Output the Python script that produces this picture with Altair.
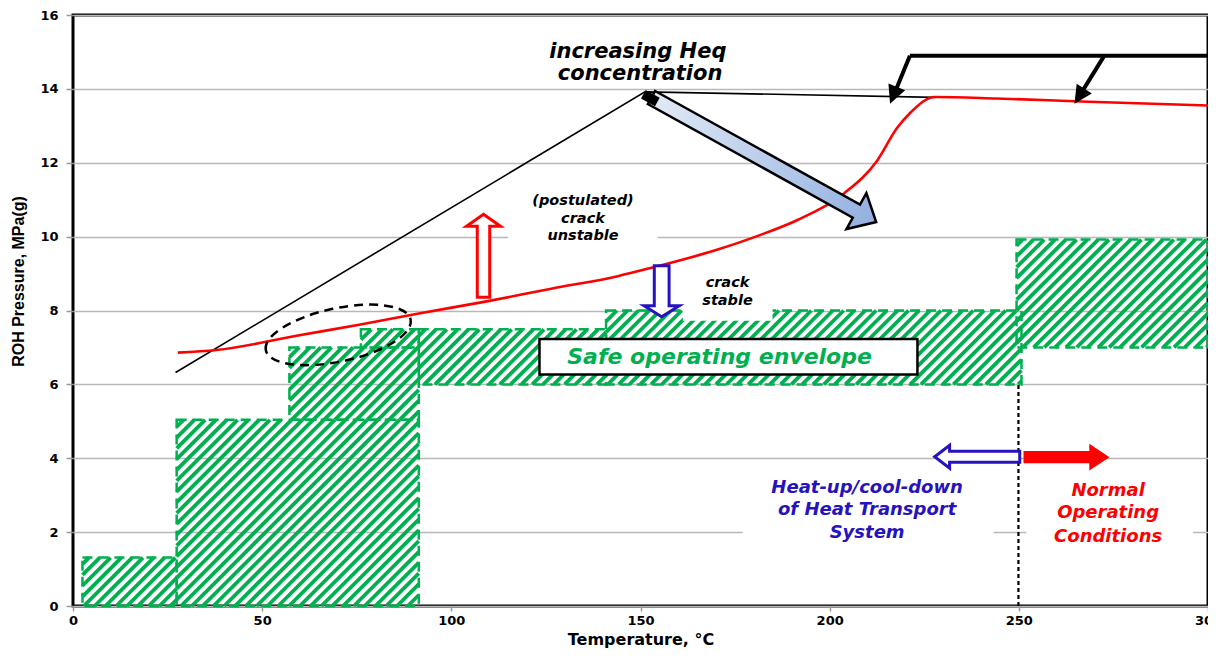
import altair as alt
import numpy as np
import pandas as pd

W, H = 1135, 591
X_MAX, Y_MAX = 300, 16
X_TICKS = [0, 50, 100, 150, 200, 250, 300]
Y_TICKS = [0, 2, 4, 6, 8, 10, 12, 14, 16]

GREEN = "#00B050"
BLUE = "#2612BE"
RED = "#FF0000"

# ---- safe operating envelope (rectangles: temperature range, pressure range)
ENV_X0 = [2.5, 27.4, 57.2, 76.1, 91.4, 140.9, 249.4]
ENV_X1 = [27.4, 91.4, 91.4, 91.4, 140.9, 250.7, 300.0]
ENV_Y0 = [0.0, 0.0, 5.04, 7.0, 6.0, 6.0, 7.0]
ENV_Y1 = [1.31, 5.04, 7.0, 7.49, 7.49, 8.0, 9.92]

# ---- crack-stability boundary (red curve)
RED_T = [27.7, 37.9, 59.8, 76.0, 91.4, 109.0, 126.4, 144.0, 152.7, 170.4, 181.0,
         191.5, 203.8, 212.5, 217.8, 221.2, 227.8, 244.0, 266.5, 300.0]
RED_P = [6.86, 6.93, 7.33, 7.62, 7.92, 8.24, 8.59, 8.93, 9.15, 9.65, 10.02,
         10.45, 11.17, 12.05, 12.94, 13.34, 13.78, 13.74, 13.66, 13.55]

# ---- increasing Heq line
HEQ_T = [27.1, 151.2, 227.8]
HEQ_P = [6.32, 13.92, 13.77]

# ---- bracket with two arrows (top right)
BR_X1 = [221.2, 221.2, 272.6]
BR_Y1 = [14.9, 14.9, 14.9]
BR_X2 = [300.0, 217.5, 266.8]
BR_Y2 = [14.9, 13.97, 13.94]
HEAD_X = [215.96, 264.7]
HEAD_Y = [13.6, 13.6]
HEAD_ANGLE = [22, 33]

# ---- white label backgrounds (x0, x1, y0, y1)
MASK_X0 = [115.0, 161.2, 177.0, 252.0]
MASK_X1 = [154.5, 184.9, 243.3, 296.0]
MASK_Y0 = [9.75, 7.72, 1.6, 1.6]
MASK_Y1 = [11.3, 9.0, 3.6, 3.6]
BOX_X0, BOX_X1, BOX_Y0, BOX_Y1 = [123.3], [223.2], [6.27], [7.23]

# ---- divider at 250 C
DIV_T = [249.9]
DIV_P0, DIV_P1 = [0.0], [6.0]

# ---- arrows (centre positions)
BIG_ARROW = {"x": [182.6], "y": [12.08]}
BIG_CAP = {"x": [152.6], "y": [13.75]}
UP_ARROW = {"x": [108.5], "y": [9.48]}
DOWN_ARROW = {"x": [155.6], "y": [8.52]}
LEFT_ARROW = {"x": [239.0], "y": [4.04]}
RIGHT_ARROW = {"x": [262.6], "y": [4.03]}
ELLIPSE = {"x": [70.1], "y": [7.34]}

# ---- texts
HEQ_TXT = ["increasing Heq", "concentration"]
HEQ_TX = [149.3, 149.9]
HEQ_TY = [14.99, 14.4]
UNST_TXT = ["(postulated)", "crack", "unstable"]
UNST_TX = [134.8, 134.8, 134.8]
UNST_TY = [10.96, 10.49, 10.02]
STAB_TXT = ["crack", "stable"]
STAB_TX = [173.0, 173.0]
STAB_TY = [8.74, 8.27]
SAFE_TXT = ["Safe operating envelope"]
SAFE_TX = [170.9]
SAFE_TY = [6.75]
HEAT_TXT = ["Heat-up/cool-down", "of Heat Transport", "System"]
HEAT_TX = [209.9, 209.9, 209.9]
HEAT_TY = [3.2, 2.59, 1.97]
NORM_TXT = ["Normal", "Operating", "Conditions"]
NORM_TX = [273.6, 273.6, 273.6]
NORM_TY = [3.12, 2.51, 1.87]

# ---------------------------------------------------------------
xscale = alt.Scale(domain=[0, X_MAX], nice=False, zero=False)
yscale = alt.Scale(domain=[0, Y_MAX], nice=False, zero=False)
xaxis = alt.Axis(values=X_TICKS, title="Temperature, °C", grid=False, labelFlush=False,
                 tickSize=5, labelPadding=3, titleY=41, titleBaseline="bottom",
                 titleFont="DejaVu Sans", titleFontSize=16, titleFontWeight="bold")
yaxis = alt.Axis(values=Y_TICKS, title="ROH Pressure, MPa(g)", grid=True,
                 gridColor="#B8B8B8", gridWidth=1.5, tickSize=7, labelPadding=8,
                 titleX=-55, titleY=266, titleBaseline="middle", titleAngle=270,
                 titleFont="Liberation Sans", titleFontSize=16, titleFontWeight="bold")


def X(f):
    return alt.X(f, type="quantitative", scale=xscale, axis=xaxis)


def Y(f):
    return alt.Y(f, type="quantitative", scale=yscale, axis=yaxis)


# hatch segments (45 degree stripes in screen space) clipped to envelope rectangles
sx, sy = W / X_MAX, H / Y_MAX
k = sx / sy
d = 10.8 / sx
segs = []
for x0, x1, y0, y1 in zip(ENV_X0, ENV_X1, ENV_Y0, ENV_Y1):
    cmin, cmax = x0 - y1 / k, x1 - y0 / k
    for n in range(int(np.floor(cmin / d)) - 1, int(np.ceil(cmax / d)) + 2):
        c = n * d
        xa = max(x0, c + y0 / k)
        xb = min(x1, c + y1 / k)
        if xb > xa:
            segs.append((xa, k * (xa - c), xb, k * (xb - c)))
hatch_df = pd.DataFrame(segs, columns=["xa", "ya", "xb", "yb"])
env_df = pd.DataFrame({"x0": ENV_X0, "x1": ENV_X1, "y0": ENV_Y0, "y1": ENV_Y1})
mask_df = pd.DataFrame({"x0": MASK_X0, "x1": MASK_X1, "y0": MASK_Y0, "y1": MASK_Y1})
box_df = pd.DataFrame({"x0": BOX_X0, "x1": BOX_X1, "y0": BOX_Y0, "y1": BOX_Y1})

hatch = alt.Chart(hatch_df).mark_rule(color=GREEN, strokeWidth=3.8, strokeCap="butt").encode(
    x=X("xa"), y=Y("ya"), x2="xb", y2="yb")
outline = alt.Chart(env_df).mark_rect(fillOpacity=0, stroke=GREEN, strokeWidth=2.5,
                                      strokeDash=[10, 6]).encode(
    x=X("x0"), x2="x1", y=Y("y0"), y2="y1")
masks = alt.Chart(mask_df).mark_rect(color="white", opacity=1).encode(
    x=X("x0"), x2="x1", y=Y("y0"), y2="y1")
box = alt.Chart(box_df).mark_rect(fill="white", stroke="black", strokeWidth=2.5).encode(
    x=X("x0"), x2="x1", y=Y("y0"), y2="y1")

divider = alt.Chart(pd.DataFrame({"t": DIV_T, "p0": DIV_P0, "p1": DIV_P1})).mark_rule(
    color="black", strokeWidth=2.2, strokeDash=[4, 3]).encode(x=X("t"), y=Y("p0"), y2="p1")

heq = alt.Chart(pd.DataFrame({"t": HEQ_T, "p": HEQ_P})).mark_line(
    color="black", strokeWidth=1.6).encode(x=X("t"), y=Y("p"))
red = alt.Chart(pd.DataFrame({"t": RED_T, "p": RED_P})).mark_line(
    color=RED, strokeWidth=2.6, interpolate="monotone").encode(x=X("t"), y=Y("p"))

bracket = alt.Chart(pd.DataFrame({"x1": BR_X1, "y1": BR_Y1, "x2": BR_X2, "y2": BR_Y2})).mark_rule(
    color="black", strokeWidth=4).encode(x=X("x1"), y=Y("y1"), x2="x2", y2="y2")
heads = alt.Chart(pd.DataFrame({"x": HEAD_X, "y": HEAD_Y, "a": HEAD_ANGLE})).mark_point(
    shape="M0,0 L-0.5,-1 L0.5,-1 Z", size=1296, filled=True, fill="black",
    strokeWidth=0, opacity=1).encode(x=X("x"), y=Y("y"), angle=alt.Angle("a:Q", scale=None))

BIG_PATH = "M-1,-0.058 L0.824,-0.058 L0.824,-0.16 L1,0 L0.824,0.16 L0.824,0.058 L-1,0.058 Z"
big_grad = alt.LinearGradient(gradient="linear",
                              stops=[alt.GradientStop(color="#E2EAF6", offset=0),
                                     alt.GradientStop(color="#93B0E0", offset=1)],
                              x1=0, x2=1, y1=0, y2=0)
big = alt.Chart(pd.DataFrame(BIG_ARROW)).mark_point(
    shape=BIG_PATH, size=66000, angle=29, filled=True, fill=big_grad, stroke="black",
    strokeWidth=2.5, opacity=1).encode(x=X("x"), y=Y("y"))
cap = alt.Chart(pd.DataFrame(BIG_CAP)).mark_point(
    shape="M-1,-0.6 L1,-0.6 L1,0.6 L-1,0.6 Z", size=256, angle=29, filled=True,
    fill="black", strokeWidth=0, opacity=1).encode(x=X("x"), y=Y("y"))

UP_PATH = "M0,-1 L0.41,-0.71 L0.15,-0.71 L0.15,1 L-0.15,1 L-0.15,-0.71 L-0.41,-0.71 Z"
DOWN_PATH = "M0,1 L0.69,0.57 L0.29,0.57 L0.29,-1 L-0.29,-1 L-0.29,0.57 L-0.69,0.57 Z"
LEFT_PATH = "M-1,0 L-0.65,-0.27 L-0.65,-0.13 L1,-0.13 L1,0.13 L-0.65,0.13 L-0.65,0.27 Z"
RIGHT_PATH = "M1,0 L0.53,-0.31 L0.53,-0.14 L-1,-0.14 L-1,0.14 L0.53,0.14 L0.53,0.31 Z"

up = alt.Chart(pd.DataFrame(UP_ARROW)).mark_point(
    shape=UP_PATH, size=6889, filled=True, fill="white", stroke=RED, strokeWidth=3,
    opacity=1).encode(x=X("x"), y=Y("y"))
down = alt.Chart(pd.DataFrame(DOWN_ARROW)).mark_point(
    shape=DOWN_PATH, size=2601, filled=True, fill="white", stroke=BLUE, strokeWidth=3,
    opacity=1).encode(x=X("x"), y=Y("y"))
left = alt.Chart(pd.DataFrame(LEFT_ARROW)).mark_point(
    shape=LEFT_PATH, size=7225, filled=True, fill="white", stroke=BLUE, strokeWidth=3,
    opacity=1).encode(x=X("x"), y=Y("y"))
right = alt.Chart(pd.DataFrame(RIGHT_ARROW)).mark_point(
    shape=RIGHT_PATH, size=7396, filled=True, fill=RED, strokeWidth=0,
    opacity=1).encode(x=X("x"), y=Y("y"))

ELL_PATH = "M-1,0 A1,0.36 0 1,1 1,0 A1,0.36 0 1,1 -1,0 Z"
ellipse = alt.Chart(pd.DataFrame(ELLIPSE)).mark_point(
    shape=ELL_PATH, size=21904, angle=348, filled=False, stroke="black", strokeWidth=2.5,
    strokeDash=[9, 6], opacity=1).encode(x=X("x"), y=Y("y"))


def texts(lines, xs, ys, color, size):
    df = pd.DataFrame({"x": xs, "y": ys, "t": lines})
    return alt.Chart(df).mark_text(color=color, font="DejaVu Sans", fontSize=size,
                                   fontStyle="italic", fontWeight="bold", align="center",
                                   baseline="middle").encode(x=X("x"), y=Y("y"), text="t:N")


t_heq = texts(HEQ_TXT, HEQ_TX, HEQ_TY, "black", 21)
t_unst = texts(UNST_TXT, UNST_TX, UNST_TY, "black", 14.5)
t_stab = texts(STAB_TXT, STAB_TX, STAB_TY, "black", 14.5)
t_safe = texts(SAFE_TXT, SAFE_TX, SAFE_TY, GREEN, 22)
t_heat = texts(HEAT_TXT, HEAT_TX, HEAT_TY, BLUE, 18)
t_norm = texts(NORM_TXT, NORM_TX, NORM_TY, RED, 18)

chart = alt.layer(
    hatch, outline, masks, box, divider, heq, red, bracket, heads, big, cap,
    up, down, left, right, ellipse, t_heq, t_unst, t_stab, t_safe, t_heat, t_norm
).properties(
    width=W, height=H,
    autosize=alt.AutoSizeParams(type="none"),
    padding={"left": 65, "top": 7, "right": 0, "bottom": 43},
).configure_view(
    stroke="black", strokeWidth=3
).configure_axis(
    labelFont="DejaVu Sans", labelFontSize=13, labelFontWeight="bold", labelColor="black",
    tickColor="#9A9A9A", tickWidth=1.5, domain=False, titleColor="black"
)

chart.save("out.html", embed_options={"renderer": "svg", "actions": False})
